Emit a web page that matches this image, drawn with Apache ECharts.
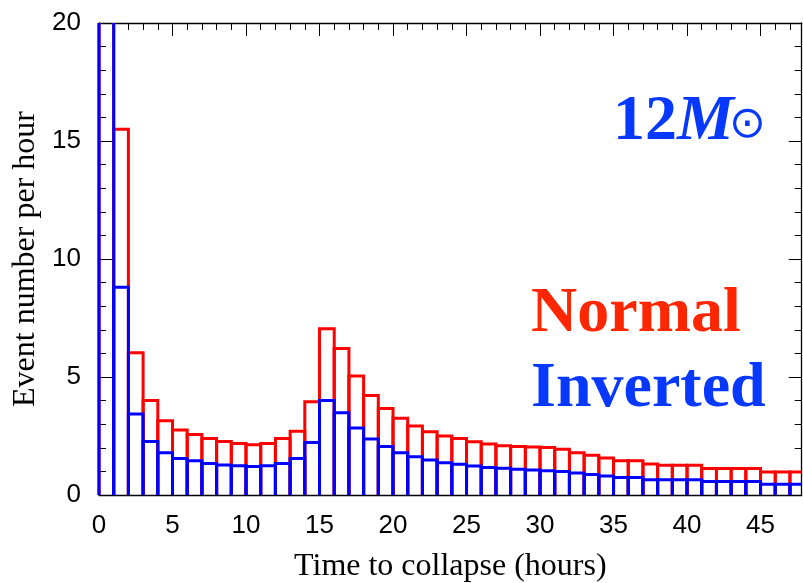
<!DOCTYPE html>
<html>
<head>
<meta charset="utf-8">
<script src="https://cdn.jsdelivr.net/npm/echarts@6/dist/echarts.min.js"></script>
<style>
html, body { margin: 0; padding: 0; background: #fff; }
#main { width: 803px; height: 583px; }
</style>
</head>
<body>
<div id="main"></div>
<script>
// bin start (hours); every bin is one hour wide
var binStarts = [0, 1, 2, 3, 4, 5, 6, 7, 8, 9, 10, 11, 12, 13, 14, 15, 16, 17, 18, 19,
    20, 21, 22, 23, 24, 25, 26, 27, 28, 29, 30, 31, 32, 33, 34, 35, 36, 37, 38, 39,
    40, 41, 42, 43, 44, 45, 46, 47];
// first bin is off scale in the picture
var normalRate = [30, 15.5, 6.03, 4.0, 3.15, 2.75, 2.56, 2.39, 2.27, 2.18, 2.13, 2.18, 2.39, 2.70,
    3.95, 7.04, 6.21, 5.04, 4.22, 3.67, 3.25, 2.92, 2.68, 2.50, 2.39, 2.26, 2.16, 2.09,
    2.05, 2.03, 2.01, 1.94, 1.79, 1.68, 1.57, 1.45, 1.45, 1.31, 1.26, 1.26, 1.26, 1.12,
    1.12, 1.12, 1.12, 0.97, 0.97, 0.97];
var invertedRate = [40, 8.8, 3.43, 2.27, 1.79, 1.55, 1.45, 1.34, 1.27, 1.24, 1.21, 1.24, 1.34, 1.55,
    2.22, 4.0, 3.49, 2.84, 2.37, 2.05, 1.79, 1.62, 1.48, 1.37, 1.30, 1.23, 1.17, 1.13,
    1.09, 1.06, 1.03, 1.0, 0.93, 0.87, 0.81, 0.74, 0.74, 0.65, 0.65, 0.65, 0.65, 0.57,
    0.57, 0.57, 0.57, 0.46, 0.46, 0.46];
var xTicks = [0, 5, 10, 15, 20, 25, 30, 35, 40, 45];
var yTicks = [0, 5, 10, 15, 20];

var chartDom = document.getElementById('main');
var myChart = echarts.init(chartDom);
var option;

var gridBox = { left: 99, right: 1.3, top: 23, bottom: 88, outerBoundsMode: 'none', containLabel: false };
var xMax = 47.8;

function toPairs(vals) {
    return binStarts.map(function (b, i) { return [b, vals[i]]; });
}

// outlined histogram bins, open where they run out of the plot
function histRenderer(color) {
    return function (params, api) {
        var x0 = api.value(0), v = api.value(1);
        var pLo = api.coord([x0, 0]);
        var pHi = api.coord([x0 + 1, v]);
        var cs = params.coordSys;
        var left = pLo[0], right = pHi[0], bottom = pLo[1], top = pHi[1];
        var cutTop = top < cs.y, cutRight = right > cs.x + cs.width + 0.5;
        if (cutTop) top = cs.y;
        if (cutRight) right = cs.x + cs.width;
        var paths = [];
        var cur = [[left, bottom], [left, top]];
        if (!cutTop) {
            cur.push([right, top]);
        } else {
            paths.push(cur);
            cur = [[right, top]];
        }
        if (!cutRight) cur.push([right, bottom]);
        if (cur.length > 1) paths.push(cur);
        return {
            type: 'group',
            children: paths.map(function (p) {
                return {
                    type: 'polyline',
                    shape: { points: p },
                    style: { stroke: color, fill: null, lineWidth: 3 }
                };
            })
        };
    };
}

var tickFont = { fontFamily: 'Liberation Sans', fontSize: 26, color: '#000' };
var nameFont = { fontFamily: 'Liberation Serif', fontSize: 32, color: '#000' };
var axisLine = { show: true, onZero: false, lineStyle: { color: '#000', width: 1.3 } };

function majorX(pos, withLabel) {
    return {
        type: 'value', gridIndex: 0, position: pos,
        min: 0, max: xMax, interval: 5,
        axisLine: axisLine,
        axisTick: { inside: true, length: 13, customValues: xTicks, lineStyle: { color: '#000', width: 1 } },
        axisLabel: withLabel ? Object.assign({
            show: true, margin: 18, customValues: xTicks,
            formatter: function (v) { return v % 5 === 0 ? v : ''; }
        }, tickFont) : { show: false },
        splitLine: { show: false },
        name: withLabel ? 'Time to collapse (hours)' : '',
        nameLocation: 'middle', nameGap: 56,
        nameTextStyle: nameFont
    };
}

function minorX(pos) {
    return {
        type: 'value', gridIndex: 1, position: pos,
        min: 0, max: xMax, interval: 1,
        axisLine: { show: false, onZero: false },
        axisTick: { inside: true, length: 7, lineStyle: { color: '#000', width: 1 } },
        axisLabel: { show: false },
        splitLine: { show: false }
    };
}

function mainY(pos, withLabel) {
    return {
        type: 'value', gridIndex: 0, position: pos,
        min: 0, max: 20, interval: 5,
        axisLine: axisLine,
        axisTick: { inside: true, length: 13, lineStyle: { color: '#000', width: 1 } },
        minorTick: { show: true, splitNumber: 5, length: 7, lineStyle: { color: '#000', width: 1 } },
        axisLabel: withLabel ? Object.assign({ show: true, margin: 18 }, tickFont) : { show: false },
        splitLine: { show: false },
        minorSplitLine: { show: false },
        name: withLabel ? 'Event number per hour' : '',
        nameLocation: 'middle', nameGap: 56,
        nameTextStyle: nameFont
    };
}

option = {
    backgroundColor: '#fff',
    animation: false,
    grid: [
        Object.assign({}, gridBox),
        Object.assign({}, gridBox)
    ],
    xAxis: [majorX('bottom', true), majorX('top', false), minorX('bottom'), minorX('top')],
    yAxis: [
        mainY('left', true),
        mainY('right', false),
        { type: 'value', gridIndex: 1, min: 0, max: 20, show: false }
    ],
    series: [
        {
            name: 'Normal',
            type: 'custom',
            xAxisIndex: 0, yAxisIndex: 0,
            z: 2,
            renderItem: histRenderer('#ff0000'),
            encode: { x: 0, y: 1 },
            data: toPairs(normalRate)
        },
        {
            name: 'Inverted',
            type: 'custom',
            xAxisIndex: 0, yAxisIndex: 0,
            z: 3,
            renderItem: histRenderer('#0000ff'),
            encode: { x: 0, y: 1 },
            data: toPairs(invertedRate)
        }
    ],
    graphic: [
        {
            type: 'text', left: 613, top: 90, z: 100,
            style: {
                text: '{a|12}{b|M}',
                rich: {
                    a: { fontFamily: 'Liberation Serif', fontWeight: 'bold', fontSize: 64, fill: '#0638ff' },
                    b: { fontFamily: 'Liberation Serif', fontWeight: 'bold', fontStyle: 'italic', fontSize: 64, fill: '#0638ff' }
                }
            }
        },
        {
            type: 'text', left: 729, top: 104, z: 100,
            style: { text: '\u2299', fontFamily: 'DejaVu Sans', fontSize: 44, fill: '#0638ff' }
        },
        {
            type: 'text', left: 531, top: 282, z: 100,
            style: { text: 'Normal', fontFamily: 'Liberation Serif', fontWeight: 'bold', fontSize: 64, fill: '#ff2600' }
        },
        {
            type: 'text', left: 531, top: 357, z: 100,
            style: { text: 'Inverted', fontFamily: 'Liberation Serif', fontWeight: 'bold', fontSize: 64, fill: '#0638ff' }
        }
    ]
};

option && myChart.setOption(option);
</script>
</body>
</html>
